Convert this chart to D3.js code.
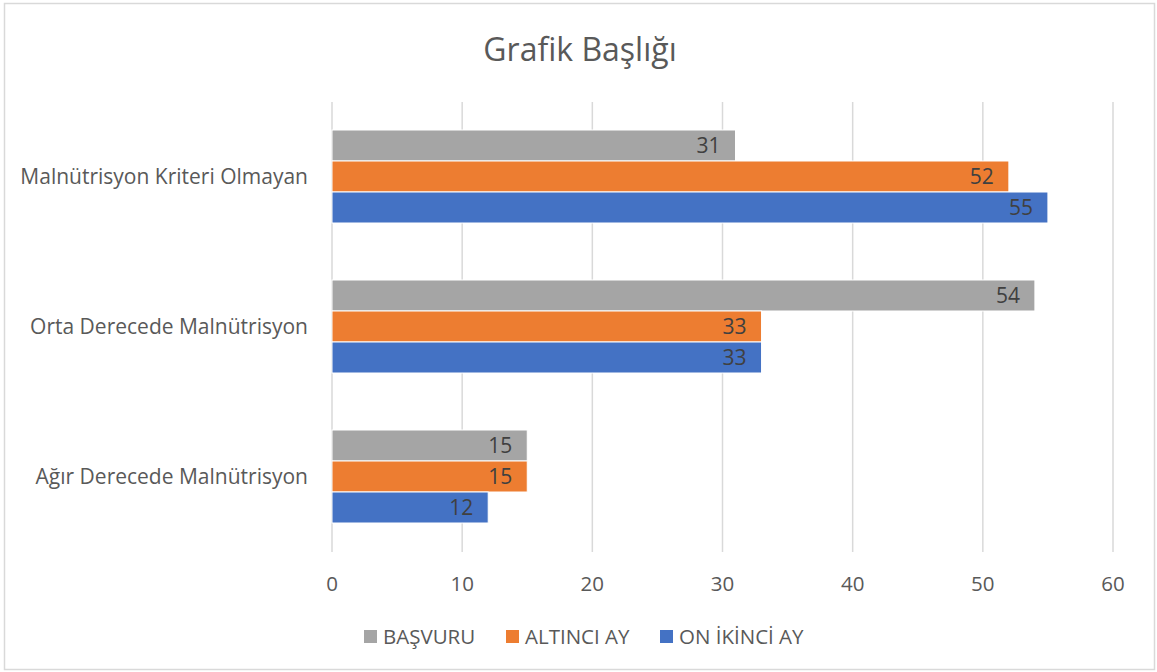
<!DOCTYPE html>
<html>
<head>
<meta charset="utf-8">
<script src="https://cdn.jsdelivr.net/npm/d3@7"></script>
<style>
  body { margin: 0; background: #fff; }
  text { font-family: "Open Sans", sans-serif; fill: #595959; }
</style>
</head>
<body>
<div id="chart"></div>
<script>
var svgWidth = 1157;
var svgHeight = 672;

// data
var categories = ["Malnütrisyon Kriteri Olmayan", "Orta Derecede Malnütrisyon", "Ağır Derecede Malnütrisyon"];
var seriesNames = ["BAŞVURU", "ALTINCI AY", "ON İKİNCİ AY"];
var basvuru = [31, 54, 15];
var altinciAy = [52, 33, 15];
var onIkinciAy = [55, 33, 12];
var xTicks = [0, 10, 20, 30, 40, 50, 60];
var colors = ["#a5a5a5", "#ed7d31", "#4472c4"];

var seriesValues = [basvuru, altinciAy, onIkinciAy];

var svg = d3.select("#chart")
  .append("svg")
  .attr("width", svgWidth)
  .attr("height", svgHeight);

// chart border
svg.append("rect")
  .attr("x", 4.5)
  .attr("y", 3.5)
  .attr("width", 1150)
  .attr("height", 666)
  .attr("fill", "#fff")
  .attr("stroke", "#d9d9d9")
  .attr("stroke-width", 1.5);

// title
svg.append("text")
  .attr("x", 580)
  .attr("y", 61)
  .attr("text-anchor", "middle")
  .style("font-size", "32px")
  .text("Grafik Başlığı");

var xScale = d3.scaleLinear()
  .domain([0, 60])
  .range([332, 1113]);

var yScale = d3.scaleBand()
  .domain(categories)
  .range([101.5, 551.5]);

var ySeries = d3.scaleBand()
  .domain(seriesNames)
  .range([0, 93]);

// gridlines
svg.append("g")
  .selectAll("line")
  .data(xTicks)
  .enter()
  .append("line")
  .attr("x1", d => xScale(d))
  .attr("x2", d => xScale(d))
  .attr("y1", 102)
  .attr("y2", 552)
  .attr("stroke", "#d9d9d9")
  .attr("stroke-width", 1.5);

// x tick labels
svg.append("g")
  .selectAll("text")
  .data(xTicks)
  .enter()
  .append("text")
  .attr("x", d => xScale(d))
  .attr("y", 591)
  .attr("text-anchor", "middle")
  .style("font-size", "20.5px")
  .text(d => d);

// category labels
svg.append("g")
  .selectAll("text")
  .data(categories)
  .enter()
  .append("text")
  .attr("x", 308)
  .attr("y", d => yScale(d) + yScale.bandwidth() / 2 + 7.5)
  .attr("text-anchor", "end")
  .style("font-size", "21px")
  .text(d => d);

// bars
var groups = svg.append("g")
  .selectAll("g")
  .data(categories)
  .enter()
  .append("g")
  .attr("transform", d => `translate(0, ${yScale(d) + (yScale.bandwidth() - 93) / 2})`);

var cells = groups.selectAll("g")
  .data((d, i) => seriesNames.map((s, j) => ({ series: s, value: seriesValues[j][i], color: colors[j] })))
  .enter()
  .append("g");

cells.append("rect")
  .attr("x", xScale(0))
  .attr("y", d => ySeries(d.series))
  .attr("width", d => xScale(d.value) - xScale(0))
  .attr("height", ySeries.bandwidth())
  .attr("fill", d => d.color)
  .attr("stroke", "#fff")
  .attr("stroke-width", 1);

// value labels, inside end
cells.append("text")
  .attr("x", d => xScale(d.value) - 15)
  .attr("y", d => ySeries(d.series) + ySeries.bandwidth() / 2 + 7.5)
  .attr("text-anchor", "end")
  .style("font-size", "21px")
  .style("fill", "#404040")
  .text(d => d.value);

// legend
var legendX = [364, 506, 660];
var legend = svg.append("g")
  .selectAll("g")
  .data(seriesNames)
  .enter()
  .append("g")
  .attr("transform", (d, i) => `translate(${legendX[i]}, 630)`);

legend.append("rect")
  .attr("width", 13)
  .attr("height", 13)
  .attr("fill", (d, i) => colors[i]);

legend.append("text")
  .attr("x", 19)
  .attr("y", 14)
  .style("font-size", "20.5px")
  .text(d => d);
</script>
</body>
</html>
